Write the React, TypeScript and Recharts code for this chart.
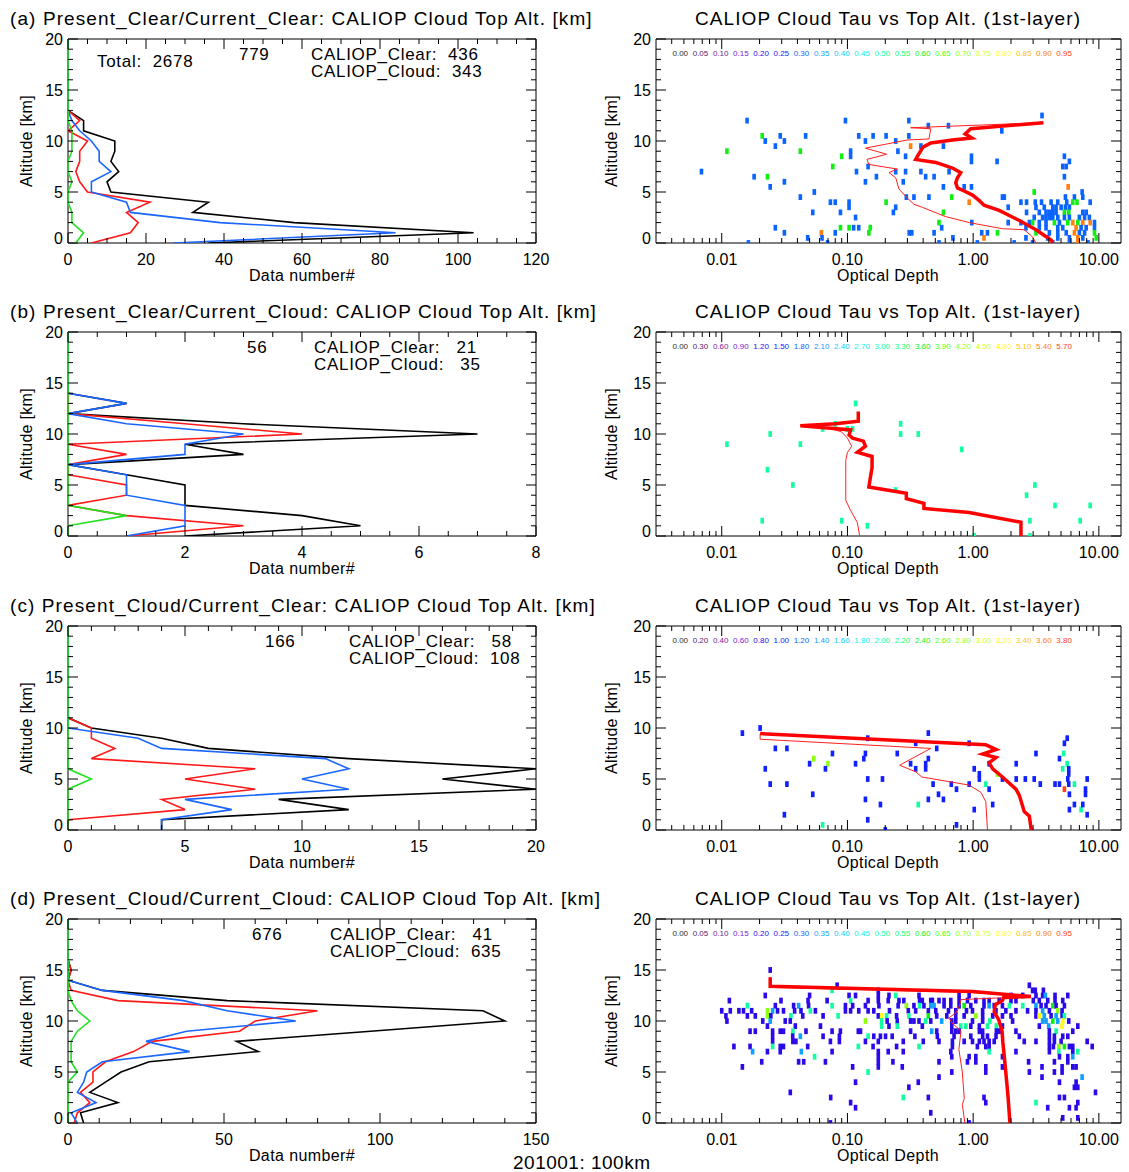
import React from 'react';
import { ScatterChart, Scatter, XAxis, YAxis, ReferenceArea } from 'recharts';

const FONT = '"Liberation Sans", Arial, Helvetica, sans-serif';

// ---------------- left-panel profiles (count per 1-km altitude bin) ----------------
const ALT = [0, 1, 2, 3, 4, 5, 6, 7, 8, 9, 10, 11, 12, 13, 14, 15, 16, 17, 18, 19, 20];

const A_BLACK = [36, 104, 58, 32, 36, 11, 10, 13, 11, 12, 12, 4, 4, 0, 0, 0, 0, 0, 0, 0, 0];
const A_BLUE = [27, 84, 39, 16, 15, 6, 6, 11, 8, 8, 6, 3, 1, 0, 0, 0, 0, 0, 0, 0, 0];
const A_RED = [6, 16, 18, 15, 21, 5, 3, 2, 3, 3, 5, 0, 3, 0, 0, 0, 0, 0, 0, 0, 0];
const A_GREEN = [2, 4, 1, 1, 0, 0, 1, 0, 0, 1, 1, 1, 0, 0, 0, 0, 0, 0, 0, 0, 0];

const B_BLACK = [2, 5, 4, 2, 2, 2, 1, 0, 3, 2, 7, 3, 0, 1, 0, 0, 0, 0, 0, 0, 0];
const B_BLUE = [1, 2, 2, 2, 1, 1, 1, 0, 2, 2, 3, 1, 0, 1, 0, 0, 0, 0, 0, 0, 0];
const B_RED = [1, 3, 1, 0, 1, 1, 0, 0, 1, 0, 4, 2, 0, 0, 0, 0, 0, 0, 0, 0, 0];
const B_GREEN = [0, 0, 1, 0, 0, 0, 0, 0, 0, 0, 0, 0, 0, 0, 0, 0, 0, 0, 0, 0, 0];

const C_BLACK = [4, 4, 12, 9, 20, 16, 20, 12, 6, 4, 1, 0, 0, 0, 0, 0, 0, 0, 0, 0, 0];
const C_BLUE = [4, 4, 7, 5, 12, 10, 12, 11, 4, 3, 0, 0, 0, 0, 0, 0, 0, 0, 0, 0, 0];
const C_RED = [0, 0, 5, 4, 8, 5, 8, 1, 2, 1, 1, 0, 0, 0, 0, 0, 0, 0, 0, 0, 0];
const C_GREEN = [0, 0, 0, 0, 0, 1, 0, 0, 0, 0, 0, 0, 0, 0, 0, 0, 0, 0, 0, 0, 0];

const D_BLACK = [5, 4, 16, 7, 12, 17, 26, 61, 54, 97, 140, 133, 51, 11, 0, 1, 0, 0, 0, 0, 0];
const D_BLUE = [3, 1, 9, 3, 5, 6, 11, 39, 25, 38, 73, 51, 37, 11, 0, 0, 0, 0, 0, 0, 0];
const D_RED = [2, 3, 7, 4, 8, 8, 12, 21, 27, 55, 60, 80, 16, 1, 0, 1, 0, 0, 0, 0, 0];
const D_GREEN = [0, 0, 0, 0, 0, 3, 1, 1, 1, 3, 7, 3, 1, 0, 0, 0, 0, 0, 0, 0, 0];

const TOTAL_ALL = 2678;
const COUNT_ALL = [779, 56, 166, 676];
const COUNT_CLEAR = [436, 21, 58, 41];
const COUNT_CLOUD = [343, 35, 108, 635];

// ---------------- right panels: cells [tau, altitude, value] ----------------
const A_CELLS = [
  [3.53, 12.5, .3], [0.0159, 12, .3], [0.0964, 12, .3], [0.308, 12, .3], [0.44, 11.5, .3], [0.636, 11.5, .3], [1.69, 11, .3],
  [0.021, 10.5, .6], [0.0222, 10, .3], [0.0292, 10.5, .3], [0.0315, 10, .3], [0.0465, 10.5, .3], [0.0267, 9.5, .3], [0.011, 9, .6], [0.0422, 9, .6],
  [0.123, 10.5, .3], [0.139, 10, .3], [0.16, 10.5, .3], [0.203, 10.5, .3], [0.242, 10, .3], [0.308, 10.5, .3],
  [0.318, 9.5, .9], [0.384, 9.5, .3], [0.58, 9.5, .3], [0.106, 9, .3], [0.106, 8.5, .3], [0.09, 8.5, .6], [0.252, 9, .3], [0.29, 8.5, .3],
  [0.97, 8.5, .3], [0.97, 8, .3], [1.55, 8, .3], [5.32, 8.5, .3], [5.83, 8, .3], [5.16, 7.5, .3], [5.5, 7.5, .3],
  [0.0765, 7.5, .6], [0.118, 7, .3], [0.146, 7.5, .3], [0.0069, 7, .3], [0.0181, 6.5, .3], [0.0231, 6.5, .6], [0.17, 6.5, .3],
  [0.242, 7, .3], [0.29, 7, .3], [0.384, 7, .3], [0.419, 6.5, .3], [0.489, 6.5, .3], [0.643, 7, .3], [5.32, 6.5, .3],
  [0.0243, 5.5, .3], [0.0315, 6, .3], [0.139, 6, .3], [0.278, 6, .3], [0.58, 5.5, .3], [0.848, 5.5, .3], [0.97, 5.5, .3], [5.7, 5.5, .9],
  [0.0545, 5, .3], [0.0422, 4.5, .3], [0.294, 4.5, .3], [0.338, 4.5, .3], [0.445, 4.5, .3], [0.676, 4.5, .6], [0.93, 4, .9], [0.58, 3, .6],
  [1.71, 4.5, .3], [1.77, 4.5, .3], [1.9, 3.5, .3], [3.06, 5, .6],
  [0.0732, 4, .3], [0.08, 4, .3], [0.103, 4, .3], [0.103, 3.5, .3], [0.203, 4, .6], [0.242, 3.5, .3], [0.053, 3, .3], [0.088, 3, .3], [0.232, 3, .3], [0.116, 2.5, .3],
  [0.975, 2, .3], [0.535, 2, .6], [0.0267, 1.5, .3], [0.0315, 1, .3], [0.062, 1, .9], [0.088, 1.5, .6], [0.103, 1.5, .6], [0.112, 1.5, .3], [0.123, 1.5, .3], [0.152, 1.5, .6], [0.148, 1, .6],
  [0.0483, 0.5, .3], [0.0628, 0.5, .3], [0.08, 1, .3], [0.31, 1, .3], [0.325, 1, .3], [0.489, 1, .3], [0.562, 1.5, .3], [0.69, 0.5, .3],
  [1.17, 1, .3], [1.3, 1, .3], [1.22, 0.5, .9], [1.56, 1, .6], [1.9, 2, .3], [2.4, 2, .3], [2.12, 0, .3], [3.16, 1, .6],
  [0.0163, 0, .3], [0.0695, 0, .3], [0.535, 0, .3], [1.08, 0, .3],
  [7.36, 5, .3], [5.42, 4.5, .3], [6.39, 4.5, .3], [7.45, 4.5, .3],
  [2.4, 4, .3], [2.66, 4, .3], [3.12, 4, .3], [3.5, 4, .3], [4.17, 4, .3], [4.71, 4, .3], [5.55, 4, .3], [6.2, 4, .6], [6.7, 4, .6], [8.53, 4, .3],
  [3.16, 3.5, .3], [3.68, 3.5, .3], [4.3, 3.5, .3], [4.57, 3.5, .3], [5.01, 3.5, .3], [5.42, 3.5, .3], [5.83, 3.5, .3],
  [2.66, 3, .3], [3.36, 3, .3], [3.8, 3, .3], [4.04, 3, .3], [4.3, 3, .3], [4.57, 3, .3], [5.32, 3, .6], [5.76, 3, .6], [7.45, 3, .3], [7.93, 3, .3],
  [3.06, 2.5, .3], [3.57, 2.5, .3], [3.8, 2.5, .3], [4.04, 2.5, .3], [4.3, 2.5, .3], [4.71, 2.5, .3], [5.32, 2.5, .3], [5.83, 2.5, .3], [7.0, 2.5, .3], [7.7, 2.5, .3], [8.4, 2.5, .3],
  [2.8, 2, .3], [2.97, 2, .6], [3.36, 2, .3], [3.8, 2, .3], [4.43, 2, .6], [4.86, 2, .3], [5.66, 2, .6], [6.2, 2, .9], [6.8, 2, .6], [7.45, 2, .9], [8.53, 2, .9], [9.23, 2, .3],
  [2.63, 1.5, .3], [3.36, 1.5, .3], [3.8, 1.5, .3], [4.71, 1.5, .3], [5.16, 1.5, .3], [6.59, 1.5, .9], [7.22, 1.5, .3], [7.93, 1.5, .3], [9.23, 1.5, .3],
  [4.04, 1, .3], [4.71, 1, .3], [5.5, 1, .3], [6.39, 1, .9], [7.0, 1, .3], [7.7, 1, .3], [9.23, 1, .6],
  [2.63, 0.5, .3], [3.92, 0.5, .3], [4.71, 0.5, .3], [5.83, 0.5, .3], [6.8, 0.5, .9], [7.45, 0.5, .3], [9.52, 0.5, .6],
  [2.97, 0, .3], [4.3, 0, .3], [5.83, 0, .3], [6.8, 0, .9], [8.2, 0, .3],
];

const B_CELLS = [
  [0.116, 13, 3], [0.08, 11, 3], [0.0635, 10.5, 3], [0.1, 10.5, 3], [0.11, 10.5, 3], [0.265, 11, 3], [0.265, 10, 3],
  [0.0243, 10, 3], [0.366, 10, 3], [0.011, 9, 3], [0.0422, 9, 3], [0.81, 8.5, 3], [0.0231, 6.5, 3], [0.0368, 5, 3],
  [0.242, 4.5, 3], [3.1, 5, 3], [2.66, 4, 3], [4.48, 3, 3], [8.53, 3, 3], [0.021, 1.5, 3], [0.09, 1.5, 3],
  [2.83, 1.5, 3], [7.1, 1.5, 3], [0.144, 1, 3], [1.02, 0, 3], [2.83, 0, 3],
];

const C_CELLS = [
  [0.0202, 10, 1], [0.0146, 9.5, 1], [0.145, 9, 1], [0.44, 9.5, 1], [0.349, 8.5, 1], [0.929, 8.5, 1], [5.32, 8.5, 1], [5.6, 9, 1],
  [0.0267, 8, 1], [0.033, 8, 1], [0.076, 7.5, 1], [0.139, 7.5, 1], [0.249, 7.5, 1], [0.513, 8, 1], [3.16, 7.5, 1], [5.25, 7.5, 2],
  [0.135, 7, 1], [0.44, 7, 1], [0.054, 7, 2.8], [0.07, 6.5, 2.8], [0.05, 6.5, 1], [0.116, 6.5, 1], [0.318, 6.5, 1],
  [0.419, 6.5, 1], [0.419, 6, 1], [1.34, 6.5, 1], [2.2, 6.5, 1], [5.6, 6.5, 2], [4.86, 7, 1],
  [0.0222, 6, 1], [0.0668, 6, 1], [0.349, 6, 1], [1.02, 6, 1], [1.12, 5.5, 1], [1.12, 5, 1], [5.16, 6, 2], [5.76, 6, 1],
  [5.76, 5.5, 1], [5.66, 5, 1], [5.76, 4.5, 1], [1.56, 5.5, 2.8], [1.71, 5, 1], [2.2, 5, 1], [2.6, 5, 1], [3.06, 5, 1],
  [3.42, 4.5, 1], [4.48, 4.5, 1], [4.86, 4.5, 1], [6.39, 4.5, 2], [8.07, 5, 1], [0.0243, 4.5, 1], [0.033, 4.5, 1],
  [0.145, 5, 1], [0.19, 5, 1], [0.48, 4.5, 1], [0.67, 4.5, 1], [0.93, 4.5, 1], [1.26, 4.5, 2], [0.737, 4, 1], [1.34, 4, 1],
  [5.32, 4, 3.8], [7.83, 4, 1], [7.83, 3.5, 1], [0.053, 3.5, 1], [0.53, 3.5, 1], [0.58, 3, 1], [0.44, 3, 1], [5.83, 3.5, 1],
  [0.139, 3, 1], [0.183, 2.5, 1], [0.366, 2.5, 2], [1.43, 2.5, 1], [6.39, 2.5, 1], [1.02, 2, 1], [5.83, 2, 1], [7.22, 2, 2],
  [7.45, 2.5, 1], [8.07, 1.5, 1], [0.0315, 1.5, 1], [0.145, 1, 1], [0.0635, 0.5, 2], [0.737, 0.5, 1], [0.2, 0, 1],
];

const D_CELLS = [
  [0.0243, 15, .2], [0.0828, 13.5, .2], [2.8, 13.5, .2],
  [0.0755, 13, .5], [0.176, 13, .2], [2.97, 13, .2], [3.12, 13, .2], [3.62, 13, .2],
  [0.0222, 12.5, .2], [0.05, 12.5, .2], [0.103, 12.5, .2], [0.116, 12.5, .2], [0.176, 12.5, .2], [0.214, 12.5, .2], [0.242, 12.5, .5],
  [0.371, 12.5, .2], [0.773, 12.5, .2], [0.929, 12.5, .2], [2.0, 12.5, .2], [2.48, 12.5, .2], [3.16, 12.5, .2], [3.57, 12.5, .2],
  [3.75, 12.5, .35], [4.48, 12.5, .2], [5.66, 12.5, .2],
  [0.0115, 12, .2], [0.0296, 12, .2], [0.0486, 12, .2], [0.0689, 12, .2], [0.106, 12, .5], [0.146, 12, .2], [0.176, 12, .2],
  [0.211, 12, .2], [0.257, 12, .2], [0.281, 12, .2], [0.375, 12, .2], [0.394, 12, .2], [0.46, 12, .2], [0.474, 12, .2],
  [0.535, 12, .2], [0.587, 12, .2], [0.664, 12, .2], [0.773, 12, .2], [0.901, 12, .2], [1.05, 12, .2], [1.22, 12, .2],
  [1.34, 12, .2], [1.61, 12, .2], [2.0, 12, .2], [2.19, 12, .2], [3.01, 12, .2], [3.36, 12, .2], [3.92, 12, .2], [4.48, 12, .2], [5.16, 12, .2],
  [0.016, 11.5, .5], [0.0267, 11.5, .2], [0.0373, 11.5, .2], [0.0409, 11.5, .35], [0.0491, 11.5, .2], [0.0755, 11.5, .5],
  [0.0964, 11.5, .2], [0.11, 11.5, .2], [0.139, 11.5, .2], [0.178, 11.5, .2], [0.253, 11.5, .2], [0.294, 11.5, .7],
  [0.338, 11.5, .2], [0.375, 11.5, .5], [0.406, 11.5, .2], [0.46, 11.5, .35], [0.489, 11.5, .35], [0.587, 11.5, .2],
  [0.664, 11.5, .2], [0.773, 11.5, .2], [0.848, 11.5, .6], [0.958, 11.5, .2], [1.22, 11.5, .2], [1.34, 11.5, .35],
  [1.47, 11.5, .2], [1.71, 11.5, .2], [1.94, 11.5, .5], [2.48, 11.5, .5], [3.16, 11.5, .35], [3.47, 11.5, .2], [3.8, 11.5, .2],
  [4.3, 11.5, .6], [4.57, 11.5, .2], [5.32, 11.5, .2],
  [0.01, 11, .2], [0.0117, 11, .2], [0.0137, 11, .2], [0.0149, 11, .2], [0.0173, 11, .2], [0.0231, 11, .7], [0.0254, 11, .35],
  [0.0278, 11, .2], [0.031, 11, .2], [0.038, 11, .2], [0.0427, 11, .2], [0.0507, 11, .5], [0.0556, 11, .2], [0.0964, 11, .2],
  [0.106, 11, .2], [0.123, 11, .2], [0.146, 11, .2], [0.162, 11, .2], [0.216, 11, .2], [0.305, 11, .2], [0.349, 11, .2],
  [0.44, 11, .2], [0.504, 11, .2], [0.636, 11, .2], [0.727, 11, .2], [0.885, 11, .2], [0.988, 11, .2], [1.19, 11, .2],
  [1.52, 11, .2], [1.82, 11, .2], [2.19, 11, .2], [2.71, 11, .2], [3.16, 11, .2], [3.57, 11, .35], [4.04, 11, .2], [4.71, 11, .7], [5.1, 11, .2],
  [0.0108, 10.5, .2], [0.016, 10.5, .2], [0.0185, 10.5, .2], [0.0231, 10.5, .7], [0.0246, 10.5, .2], [0.0355, 10.5, .5],
  [0.0441, 10.5, .2], [0.064, 10.5, .2], [0.0843, 10.5, .5], [0.176, 10.5, .2], [0.187, 10.5, .8], [0.205, 10.5, .5],
  [0.246, 10.5, .2], [0.308, 10.5, .5], [0.44, 10.5, .6], [0.513, 10.5, .2], [0.617, 10.5, .2], [0.727, 10.5, .2],
  [0.848, 10.5, .2], [1.05, 10.5, .7], [1.19, 10.5, .2], [1.43, 10.5, .2], [1.71, 10.5, .2], [2.0, 10.5, .2], [3.16, 10.5, .2],
  [3.36, 10.5, .8], [3.68, 10.5, .35], [4.17, 10.5, .2], [4.57, 10.5, .35], [5.1, 10.5, .2], [5.32, 10.5, .5],
  [0.011, 10, .2], [0.0212, 10, .2], [0.0243, 10, .35], [0.032, 10, .2], [0.0351, 10, .2], [0.139, 10, .7], [0.187, 10, .5],
  [0.207, 10, .2], [0.249, 10, .2], [0.318, 10, .2], [0.338, 10, .2], [0.371, 10, .2], [0.419, 10, .5], [0.46, 10, .2],
  [0.562, 10, .35], [0.676, 10, .2], [0.727, 10, .2], [0.988, 10, .2], [1.19, 10, .2], [1.36, 10, .5], [2.06, 10, .2],
  [3.57, 10, .35], [3.8, 10, .35], [4.3, 10, .6], [4.71, 10, .35], [5.16, 10, .8], [5.76, 10, .2],
  [0.0231, 9.5, .2], [0.0385, 9.5, .2], [0.061, 9.5, .2], [0.187, 9.5, .5], [0.214, 9.5, .2], [0.249, 9.5, .5], [0.394, 9.5, .2],
  [0.676, 9.5, .2], [0.797, 9.5, .5], [0.874, 9.5, .5], [0.958, 9.5, .2], [1.12, 9.5, .2], [1.3, 9.5, .5], [1.53, 9.5, .5],
  [1.71, 9.5, .2], [3.36, 9.5, .2], [3.99, 9.5, .35], [5.1, 9.5, .8], [6.8, 9.5, .2],
  [0.0168, 9, .2], [0.0185, 9, .2], [0.0254, 9, .2], [0.0292, 9, .2], [0.031, 9, .2], [0.0368, 9, .5], [0.0468, 9, .2],
  [0.0755, 9, .2], [0.0879, 9, .2], [0.122, 9, .2], [0.127, 9, .2], [0.318, 9, .2], [0.468, 9, .35], [0.513, 9, .2],
  [0.676, 9, .2], [0.727, 9, .2], [0.773, 9, .2], [1.12, 9, .2], [1.19, 9, .2], [1.53, 9, .2], [1.61, 9, .2], [2.19, 9, .2],
  [4.04, 9, .2], [4.57, 9, .5], [6.2, 9, .2],
  [0.0254, 8.5, .2], [0.0367, 8.5, .2], [0.0422, 8.5, .35], [0.064, 8.5, .2], [0.0863, 8.5, .2], [0.146, 8.5, .5],
  [0.162, 8.5, .2], [0.183, 8.5, .2], [0.201, 8.5, .2], [0.227, 8.5, .2], [0.344, 8.5, .2], [0.519, 8.5, .2], [0.705, 8.5, .2],
  [0.958, 8.5, .2], [1.19, 8.5, .2], [1.3, 8.5, .2], [1.52, 8.5, .2], [2.33, 8.5, .2], [4.04, 8.5, .2], [4.43, 8.5, .2],
  [5.16, 8.5, .2], [5.66, 8.5, .2],
  [0.0254, 8, .2], [0.0368, 8, .2], [0.0389, 8, .2], [0.0732, 8, .2], [0.0863, 8, .2], [0.139, 8, .2], [0.176, 8, .2],
  [0.278, 8, .2], [0.401, 8, .2], [0.535, 8, .2], [0.684, 8, .2], [0.848, 8, .2], [0.988, 8, .2], [1.12, 8, .2], [1.22, 8, .2],
  [1.34, 8, .2], [1.47, 8, .2], [2.55, 8, .2], [3.16, 8, .2], [4.04, 8, .2], [4.43, 8, .2], [5.01, 8, .2], [8.07, 8, .2],
  [0.0125, 7.5, .2], [0.0168, 7.5, .2], [0.0254, 7.5, .5], [0.0292, 7.5, .2], [0.031, 7.5, .2], [0.0483, 7.5, .2],
  [0.122, 7.5, .5], [0.16, 7.5, .2], [0.246, 7.5, .2], [0.371, 7.5, .5], [0.684, 7.5, .2], [1.08, 7.5, .2], [1.26, 7.5, .2],
  [1.34, 7.5, .2], [4.04, 7.5, .2], [4.35, 7.5, .2], [4.8, 7.5, .7], [5.32, 7.5, .6], [5.83, 7.5, .2], [6.2, 7.5, .2], [8.85, 7.5, .2],
  [0.0176, 7, .35], [0.0231, 7, .2], [0.0292, 7, .2], [0.043, 7, .35], [0.0755, 7, .2], [0.176, 7, .2], [0.211, 7, .2],
  [0.278, 7, .2], [0.664, 7, .2], [1.34, 7, .5], [2.19, 7, .2], [4.04, 7, .2], [4.8, 7, .5], [6.2, 7, .2], [6.8, 7, .5],
  [0.0548, 6.5, .5], [0.176, 6.5, .2], [0.676, 6.5, .2], [0.929, 6.5, .2], [1.05, 6.5, .2], [1.71, 6.5, .2], [4.86, 6.5, .2],
  [5.66, 6.5, .2], [6.2, 6.5, .35],
  [0.0208, 6, .2], [0.0409, 6, .2], [0.0449, 6, .2], [0.0668, 6, .2], [0.176, 6, .2], [0.23, 6, .2], [0.535, 6, .2],
  [0.901, 6, .2], [1.05, 6, .2], [2.76, 6, .2], [4.43, 6, .2], [5.66, 6, .2],
  [0.0146, 5.5, .2], [0.11, 5.5, .2], [0.176, 5.5, .2], [0.273, 5.5, .2], [1.26, 5.5, .2], [1.71, 5.5, .2], [3.53, 5.5, .2],
  [5.1, 5.5, .2], [6.2, 5.5, .2], [6.59, 5.5, .2],
  [0.146, 5, .5], [0.676, 5, .2], [1.26, 5, .2], [2.8, 5, .2], [4.43, 5, .2], [5.1, 5, .2],
  [0.535, 4.5, .2], [3.53, 4.5, .2], [7.36, 4.5, .35],
  [0.116, 4, .2], [0.366, 4, .2], [4.86, 4, .2], [6.59, 4, .2],
  [0.308, 3.5, .2], [6.39, 3.5, .2], [6.8, 3.5, .2],
  [0.0351, 3, .2], [9.4, 3, .2],
  [0.0736, 2.5, .2], [0.278, 2.5, .5], [0.44, 2.5, .2], [1.22, 2.5, .2], [4.86, 2.5, .2], [5.32, 2.5, .2],
  [0.106, 2, .2], [1.26, 2, .2], [3.16, 2, .5], [6.8, 2, .2],
  [0.116, 1.5, .2], [3.92, 1.5, .2], [5.83, 1.5, .2], [6.59, 1.5, .2],
  [0.46, 1, .2], [5.16, 0.5, .2], [6.8, 0.5, .2], [0.0732, 0, .2], [0.929, 0, .2],
];

// ---------------- right panels: red profile lines [tau, altitude] ----------------
const A_THICK = [[3.62, 11.8], [0.958, 11.2], [0.863, 10.7], [0.976, 10.3], [0.684, 10.1], [0.46, 9.8], [0.399, 9.4], [0.36, 8.5],
  [0.349, 8.2], [0.504, 7.9], [0.684, 7.35], [0.797, 6.9], [0.75, 6.4], [0.727, 5.9], [0.75, 5.4], [0.848, 5.1], [0.988, 4.7],
  [1.12, 4.15], [1.22, 3.7], [1.61, 3.2], [2.33, 2.2], [3.16, 1.3], [4.17, 0.3], [4.3, 0]];
const A_THIN = [[3.62, 11.8], [0.318, 11.3], [0.46, 11.2], [0.445, 10.2], [0.3, 10.1], [0.139, 9.3], [0.205, 8.7], [0.143, 8.2],
  [0.148, 7.7], [0.249, 7.25], [0.214, 6.9], [0.242, 6.4], [0.257, 5.3], [0.294, 4.5], [0.338, 3.8], [0.394, 3.5], [0.6, 2.6],
  [0.93, 2.0], [1.71, 1.4], [2.55, 1.3], [2.97, 0.6], [3.16, 0]];
const B_THICK = [[0.122, 12.2], [0.122, 11.25], [0.08, 11.0], [0.0422, 10.8], [0.07, 10.6], [0.106, 10.4], [0.103, 9.9], [0.11, 9.6],
  [0.134, 9.3], [0.139, 8.8], [0.12, 8.2], [0.157, 7.8], [0.157, 6.7], [0.152, 5.7], [0.148, 4.8], [0.294, 4.2], [0.294, 3.65],
  [0.406, 3.2], [0.406, 2.7], [0.93, 2.3], [2.4, 1.35], [2.4, 0]];
const B_THIN = [[0.122, 11.25], [0.075, 11.0], [0.0422, 10.8], [0.075, 10.5], [0.09, 10.2], [0.1, 9.6], [0.108, 8.8], [0.1, 8.2],
  [0.097, 7.4], [0.097, 6.0], [0.097, 3.5], [0.105, 2.6], [0.12, 1.3], [0.125, 0]];
const C_THICK = [[0.0202, 9.45], [1.26, 8.35], [1.52, 7.9], [1.19, 7.45], [1.52, 7.1], [1.34, 6.6], [1.43, 6.0], [1.71, 5.2],
  [2.19, 4.0], [2.33, 3.4], [2.55, 1.8], [2.8, 1.35], [2.9, 0]];
const C_THIN = [[0.0202, 9.45], [0.0202, 8.9], [0.46, 8.0], [0.26, 6.35], [0.35, 5.7], [0.39, 5.2], [0.93, 4.4], [1.15, 3.7],
  [1.26, 2.8], [1.3, 0]];
const D_THICK = [[0.0243, 14.3], [0.0243, 13.4], [0.99, 12.9], [2.88, 12.4], [1.75, 12.3], [1.71, 12.0], [1.5, 11.6], [1.47, 10.9],
  [1.6, 10.1], [1.7, 9.0], [1.72, 8.0], [1.77, 6.5], [1.84, 4.3], [1.9, 2.4], [1.96, 0]];
const D_THIN = [[0.0243, 14.3], [0.0243, 13.3], [0.95, 12.8], [2.88, 12.4], [0.8, 12.1], [0.78, 11.5], [0.73, 10.8], [0.64, 10.3],
  [0.68, 9.8], [0.8, 9.0], [0.77, 7.2], [0.82, 5.0], [0.85, 2.4], [0.82, 1.8], [0.86, 0]];

// ---------------- colour-bar labels ----------------
const LEGEND_A = ['0.00', '0.05', '0.10', '0.15', '0.20', '0.25', '0.30', '0.35', '0.40', '0.45', '0.50', '0.55', '0.60', '0.65', '0.70', '0.75', '0.80', '0.85', '0.90', '0.95'];
const LEGEND_B = ['0.00', '0.30', '0.60', '0.90', '1.20', '1.50', '1.80', '2.10', '2.40', '2.70', '3.00', '3.30', '3.60', '3.90', '4.20', '4.50', '4.80', '5.10', '5.40', '5.70'];
const LEGEND_C = ['0.00', '0.20', '0.40', '0.60', '0.80', '1.00', '1.20', '1.40', '1.60', '1.80', '2.00', '2.20', '2.40', '2.60', '2.80', '3.00', '3.20', '3.40', '3.60', '3.80'];
const LEGEND_D = ['0.00', '0.05', '0.10', '0.15', '0.20', '0.25', '0.30', '0.35', '0.40', '0.45', '0.50', '0.55', '0.60', '0.65', '0.70', '0.75', '0.80', '0.85', '0.90', '0.95'];

// ---------------- text ----------------
const LEFT_TITLES = [
  '(a) Present_Clear/Current_Clear: CALIOP Cloud Top Alt. [km]',
  '(b) Present_Clear/Current_Cloud: CALIOP Cloud Top Alt. [km]',
  '(c) Present_Cloud/Current_Clear: CALIOP Cloud Top Alt. [km]',
  '(d) Present_Cloud/Current_Cloud: CALIOP Cloud Top Alt. [km]',
];
const RIGHT_TITLE = 'CALIOP Cloud Tau vs Top Alt. (1st-layer)';
const X_LEFT_LABEL = 'Data number#';
const X_RIGHT_LABEL = 'Optical Depth';
const Y_LABEL = 'Altitude [km]';
const FOOTER = '201001: 100km';

const X_MAJOR_TICKS = [[0, 20, 40, 60, 80, 100, 120], [0, 2, 4, 6, 8], [0, 5, 10, 15, 20], [0, 50, 100, 150]];
const X_MINOR_STEP = [5, 0.5, 1, 10];
const Y_MAJOR_TICKS = [0, 5, 10, 15, 20];
const TAU_MAJOR_TICKS = [0.01, 0.1, 1, 10];
const TAU_DOMAIN = [0.003, 15];

const LEFT_DATA = [
  [A_BLACK, A_BLUE, A_RED, A_GREEN],
  [B_BLACK, B_BLUE, B_RED, B_GREEN],
  [C_BLACK, C_BLUE, C_RED, C_GREEN],
  [D_BLACK, D_BLUE, D_RED, D_GREEN],
];
const RIGHT_DATA = [
  [A_CELLS, A_THIN, A_THICK, LEGEND_A],
  [B_CELLS, B_THIN, B_THICK, LEGEND_B],
  [C_CELLS, C_THIN, C_THICK, LEGEND_C],
  [D_CELLS, D_THIN, D_THICK, LEGEND_D],
];

// ---------------- layout / style ----------------
const ROW_TOP = [39, 332, 626, 919];
const PLOT_H = 204;
const LEFT_W = 468;
const RIGHT_W = 465;
const ANNOT_X = [
  { count: 239, caliop: 311 },
  { count: 247, caliop: 314 },
  { count: 265, caliop: 349 },
  { count: 252, caliop: 330 },
];
const LINE_COLORS = { black: '#000000', blue: '#1a66ff', red: '#ff1a1a', green: '#22e022' };
const PALETTE = ['#2a2a2a', '#5a1a6a', '#7a1a9a', '#7a1ad0', '#2a0ae8', '#1020ff', '#0a64ff', '#10a0ff', '#10c8ff', '#10eeee',
  '#10ffa0', '#10ff70', '#10f010', '#50ff10', '#90ff10', '#d0ff10', '#ffff10', '#ffc010', '#ff8010', '#ff4010'];

const Y_TICKS = ALT;
const TAU_TICKS = (() => {
  const out = [];
  [0.001, 0.01, 0.1, 1, 10].forEach((d) => {
    for (let k = 1; k <= 9; k++) {
      const v = +(k * d).toPrecision(3);
      if (v > 0.0035 && v < 14) out.push(v);
    }
  });
  return out;
})();

const isIn = (arr, v) => arr.some((m) => Math.abs(m - v) < 1e-9);

function XTick(props) {
  const { x, y, payload, majors, plotH, fmt } = props;
  const v = payload.value;
  const major = isIn(majors, v);
  const len = major ? 10 : 5;
  return (
    <g>
      <line x1={x} y1={y} x2={x} y2={y - len} stroke="#000" strokeWidth={1} />
      <line x1={x} y1={y - plotH} x2={x} y2={y - plotH + len} stroke="#000" strokeWidth={1} />
      {major && (
        <text x={x} y={y + 16} textAnchor="middle" dominantBaseline="central" fontSize={16} fontFamily={FONT} fill="#000">
          {fmt(v)}
        </text>
      )}
    </g>
  );
}

function YTick(props) {
  const { x, y, payload, majors, plotW } = props;
  const v = payload.value;
  const major = isIn(majors, v);
  const len = major ? 10 : 5;
  return (
    <g>
      <line x1={x} y1={y} x2={x + len} y2={y} stroke="#000" strokeWidth={1} />
      <line x1={x + plotW} y1={y} x2={x + plotW - len} y2={y} stroke="#000" strokeWidth={1} />
      {major && (
        <text x={x - 5} y={v === 0 ? y - 5 : y} textAnchor="end" dominantBaseline="central" fontSize={16} fontFamily={FONT} fill="#000">
          {String(v)}
        </text>
      )}
    </g>
  );
}

const emptyShape = () => <g />;

function Txt({ x, cy, size, ls = 0, center = false, color = '#000', children }) {
  return (
    <div
      style={{
        position: 'absolute', left: x, top: cy - size * 0.5, fontSize: size, lineHeight: `${size}px`,
        letterSpacing: ls, whiteSpace: 'pre', color, fontFamily: FONT,
        transform: center ? 'translateX(-50%)' : undefined,
      }}
    >
      {children}
    </div>
  );
}

function VTxt({ cx, cy, size, children }) {
  return (
    <div
      style={{
        position: 'absolute', left: cx, top: cy, fontSize: size, lineHeight: `${size}px`, whiteSpace: 'nowrap',
        fontFamily: FONT, color: '#000', letterSpacing: 0.3, transform: 'translate(-50%,-50%) rotate(-90deg)',
      }}
    >
      {children}
    </div>
  );
}

function LeftPanel({ i }) {
  const top = ROW_TOP[i];
  const [black, blue, red, green] = LEFT_DATA[i];
  const majors = X_MAJOR_TICKS[i];
  const xmax = majors[majors.length - 1];
  const step = X_MINOR_STEP[i];
  const ticks = [];
  for (let k = 0; k * step <= xmax + 1e-9; k++) ticks.push(+(k * step).toFixed(3));
  const series = [
    [black, LINE_COLORS.black],
    [red, LINE_COLORS.red],
    [blue, LINE_COLORS.blue],
    [green, LINE_COLORS.green],
  ];
  return (
    <div style={{ position: 'absolute', left: 0, top: top - 10 }}>
      <ScatterChart width={560} height={264} margin={{ top: 10, right: 24, bottom: 0, left: 0 }}>
        <XAxis type="number" dataKey="x" domain={[0, xmax]} allowDataOverflow ticks={ticks} interval={0}
          tickLine={false} axisLine={false} tickSize={0} tickMargin={0} height={50}
          tick={<XTick majors={majors} plotH={PLOT_H} fmt={(v) => String(v)} />} />
        <YAxis type="number" dataKey="y" domain={[0, 20]} allowDataOverflow ticks={Y_TICKS} interval={0}
          tickLine={false} axisLine={false} tickSize={0} tickMargin={0} width={68}
          tick={<YTick majors={Y_MAJOR_TICKS} plotW={LEFT_W} />} />
        <ReferenceArea x1={0} x2={xmax} y1={0} y2={20} fill="none" fillOpacity={0} stroke="#000" strokeWidth={1} />
        {series.map(([vals, c], k) => (
          <Scatter key={k} data={ALT.map((a, j) => ({ x: vals[j], y: a }))} fill={c}
            line={{ stroke: c, strokeWidth: 1.6 }} shape={emptyShape} isAnimationActive={false} />
        ))}
      </ScatterChart>
    </div>
  );
}

function RightPanel({ i }) {
  const top = ROW_TOP[i];
  const [cells, thin, thick, legend] = RIGHT_DATA[i];
  const step = parseFloat(legend[1]);
  const cellShape = (p) => {
    const idx = Math.min(19, Math.max(0, Math.round(p.payload.v / step)));
    return <rect x={p.cx - 1.8} y={p.cy - 2.9} width={3.6} height={5.8} fill={PALETTE[idx]} />;
  };
  return (
    <div style={{ position: 'absolute', left: 590, top: top - 10 }}>
      <ScatterChart width={539} height={264} margin={{ top: 10, right: 8, bottom: 0, left: 0 }}>
        <XAxis type="number" dataKey="x" scale="log" domain={TAU_DOMAIN} allowDataOverflow ticks={TAU_TICKS} interval={0}
          tickLine={false} axisLine={false} tickSize={0} tickMargin={0} height={50}
          tick={<XTick majors={TAU_MAJOR_TICKS} plotH={PLOT_H} fmt={(v) => v.toFixed(2)} />} />
        <YAxis type="number" dataKey="y" domain={[0, 20]} allowDataOverflow ticks={Y_TICKS} interval={0}
          tickLine={false} axisLine={false} tickSize={0} tickMargin={0} width={66}
          tick={<YTick majors={Y_MAJOR_TICKS} plotW={RIGHT_W} />} />
        <ReferenceArea x1={TAU_DOMAIN[0]} x2={TAU_DOMAIN[1]} y1={0} y2={20} fill="none" fillOpacity={0} stroke="#000" strokeWidth={1} />
        <Scatter data={cells.map(([t, a, v]) => ({ x: t, y: a, v }))} fill="#0a64ff" shape={cellShape} isAnimationActive={false} />
        <Scatter data={thin.map(([t, a]) => ({ x: t, y: a }))} fill="#ff2020" line={{ stroke: '#ff2020', strokeWidth: 1 }}
          shape={emptyShape} isAnimationActive={false} />
        <Scatter data={thick.map(([t, a]) => ({ x: t, y: a }))} fill="#ff0000" line={{ stroke: '#ff0000', strokeWidth: 3.5 }}
          shape={emptyShape} isAnimationActive={false} />
      </ScatterChart>
    </div>
  );
}

function Row({ i }) {
  const top = ROW_TOP[i];
  const bottom = top + PLOT_H;
  const pad = (n) => String(n).padStart(5, ' ');
  const legend = RIGHT_DATA[i][3];
  return (
    <>
      <LeftPanel i={i} />
      <RightPanel i={i} />
      <Txt x={10} cy={top - 21} size={19} ls={1.1}>{LEFT_TITLES[i]}</Txt>
      <Txt x={888} cy={top - 21} size={19} ls={1.1} center>{RIGHT_TITLE}</Txt>
      {i === 0 && <Txt x={97} cy={top + 22} size={17} ls={0.7}>{`Total:  ${TOTAL_ALL}`}</Txt>}
      <Txt x={ANNOT_X[i].count} cy={top + 15.5} size={17} ls={0.7}>{String(COUNT_ALL[i])}</Txt>
      <Txt x={ANNOT_X[i].caliop} cy={top + 15.5} size={17} ls={0.7}>{`CALIOP_Clear:${pad(COUNT_CLEAR[i])}`}</Txt>
      <Txt x={ANNOT_X[i].caliop} cy={top + 32.5} size={17} ls={0.7}>{`CALIOP_Cloud:${pad(COUNT_CLOUD[i])}`}</Txt>
      <VTxt cx={27} cy={top + PLOT_H / 2} size={16}>{Y_LABEL}</VTxt>
      <VTxt cx={612} cy={top + PLOT_H / 2} size={16}>{Y_LABEL}</VTxt>
      <Txt x={302} cy={bottom + 33} size={16} ls={0.4} center>{X_LEFT_LABEL}</Txt>
      <Txt x={888} cy={bottom + 33} size={16} ls={0.4} center>{X_RIGHT_LABEL}</Txt>
      {legend.map((lab, k) => (
        <Txt key={k} x={672.5 + k * 20.2} cy={top + 14.6} size={8} color={PALETTE[k]}>{lab}</Txt>
      ))}
    </>
  );
}

export default function App() {
  return (
    <div style={{ position: 'absolute', left: 0, top: 0, width: 1129, height: 1172, background: '#fff', overflow: 'hidden', fontFamily: FONT }}>
      {[0, 1, 2, 3].map((i) => <Row key={i} i={i} />)}
      <Txt x={513} cy={1162} size={19} ls={0.5}>{FOOTER}</Txt>
    </div>
  );
}
